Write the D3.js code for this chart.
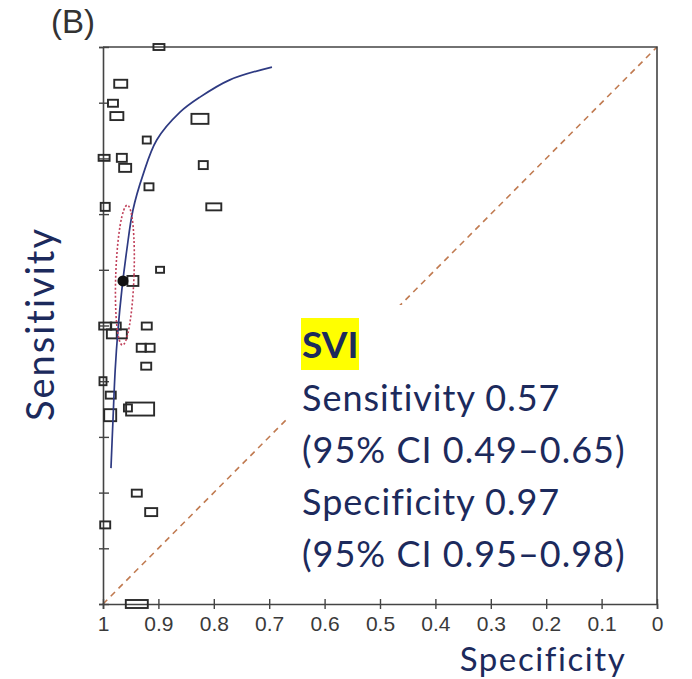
<!DOCTYPE html>
<html>
<head>
<meta charset="utf-8">
<script src="https://cdn.jsdelivr.net/npm/d3@7"></script>
<style>
  body { margin: 0; background: #fff; }
</style>
</head>
<body>
<div id="chart"></div>
<script>
var width = 692;
var height = 679;

// Tick values on the specificity axis (also used for sensitivity ticks)
var tickValues = [1, 0.9, 0.8, 0.7, 0.6, 0.5, 0.4, 0.3, 0.2, 0.1, 0];

// Individual studies: specificity, sensitivity and box weights
var studySpec = [0.899, 0.968, 0.982, 0.975, 0.825, 0.921, 0.998, 0.966, 0.960, 0.819,
                 0.917, 0.996, 0.800, 0.897, 0.946, 0.996, 0.977, 0.921, 0.984, 0.966,
                 0.931, 0.915, 0.922, 1.000, 0.986, 0.933, 0.987, 0.955, 0.939, 0.913,
                 0.996, 0.939];
var studySens = [1.000, 0.934, 0.899, 0.876, 0.871, 0.833, 0.801, 0.801, 0.783, 0.788,
                 0.749, 0.713, 0.713, 0.600, 0.580, 0.499, 0.499, 0.499, 0.485, 0.485,
                 0.460, 0.460, 0.427, 0.400, 0.375, 0.350, 0.339, 0.352, 0.199, 0.165,
                 0.142, 0.000];
var studyNeg = [44, 52, 40, 52, 68, 32, 44, 40, 48, 36,
                36, 36, 60, 32, 44, 48, 40, 40, 40, 40,
                36, 36, 40, 28, 40, 112, 48, 32, 40, 48,
                40, 88];
var studyPos = [24, 32, 28, 32, 40, 28, 24, 32, 32, 32,
                28, 32, 28, 24, 40, 28, 28, 28, 36, 36,
                32, 32, 28, 32, 28, 52, 48, 28, 28, 32,
                28, 32];

// SROC curve
var curveSpec = [0.9856, 0.982, 0.978, 0.973, 0.966, 0.957, 0.946, 0.928, 0.903, 0.861, 0.825, 0.771, 0.695];
var curveSens = [0.244, 0.330, 0.420, 0.492, 0.564, 0.636, 0.707, 0.770, 0.833, 0.883, 0.910, 0.941, 0.964];

// Summary point and its 95% confidence region
var summarySpec = 0.964;
var summarySens = 0.580;
var regionSpec = [0.977, 0.944];
var regionSens = [0.465, 0.716];

var summaryLines = ["Sensitivity 0.57", "(95% CI 0.49\u20130.65)", "Specificity 0.97", "(95% CI 0.95\u20130.98)"];

var navy = "#1c2a5c";

var svg = d3.select("#chart").append("svg")
    .attr("width", width)
    .attr("height", height);

var x = d3.scaleLinear().domain([1, 0]).range([103, 657]);
var y = d3.scaleLinear().domain([0, 1]).range([604, 47]);
var boxSize = d3.scaleLinear().domain([0, 100]).range([0, 25]);

// Chance diagonal
svg.append("line")
  .attr("x1", x(1)).attr("y1", y(0))
  .attr("x2", x(0)).attr("y2", y(1))
  .attr("stroke", "#c07a50")
  .attr("stroke-width", 1.6)
  .attr("stroke-dasharray", "6,5");

// White panel behind the summary text
svg.append("rect")
  .attr("x", 288).attr("y", 305)
  .attr("width", 362).attr("height", 290)
  .attr("fill", "#fff");

// Frame: top and right borders
svg.append("path")
  .attr("d", "M" + x(1) + "," + y(1) + "H" + x(0) + "V" + y(0))
  .attr("fill", "none")
  .attr("stroke", "#444")
  .attr("stroke-width", 1.6);

// Bottom axis
var xAxis = svg.append("g")
  .attr("transform", "translate(0," + y(0) + ")")
  .call(d3.axisBottom(x).tickValues(tickValues).tickSize(5).tickFormat(d3.format("")));
xAxis.select(".domain").attr("stroke", "#444").attr("stroke-width", 1.6);
xAxis.selectAll(".tick line").attr("y1", -5).attr("y2", 5).attr("stroke", "#444").attr("stroke-width", 1.4);
xAxis.selectAll(".tick text")
  .attr("y", 12)
  .attr("dy", "0.71em")
  .attr("fill", "#3a3a3a")
  .style("font-family", "'Liberation Sans', Arial, sans-serif")
  .style("font-size", "21px");

// Left axis, ticks only
var yAxis = svg.append("g")
  .attr("transform", "translate(" + x(1) + ",0)")
  .call(d3.axisLeft(y).tickValues(tickValues).tickSize(4).tickFormat(""));
yAxis.select(".domain").attr("stroke", "#444").attr("stroke-width", 1.6);
yAxis.selectAll(".tick line").attr("x1", -4).attr("x2", 6).attr("stroke", "#444").attr("stroke-width", 1.4);

// Study boxes
var studies = studySpec.map((s, i) => ({spec: s, sens: studySens[i], w: studyNeg[i], h: studyPos[i]}));
svg.selectAll("rect.study")
  .data(studies)
  .enter()
  .append("rect")
    .attr("class", "study")
    .attr("x", d => x(d.spec) - boxSize(d.w) / 2)
    .attr("y", d => y(d.sens) - boxSize(d.h) / 2)
    .attr("width", d => boxSize(d.w))
    .attr("height", d => boxSize(d.h))
    .attr("fill", "none")
    .attr("stroke", "#2a2a2a")
    .attr("stroke-width", 1.9);

// SROC curve
var line = d3.line()
  .x(d => x(d[0]))
  .y(d => y(d[1]))
  .curve(d3.curveCatmullRom);
svg.append("path")
  .datum(curveSpec.map((s, i) => [s, curveSens[i]]))
  .attr("d", line)
  .attr("fill", "none")
  .attr("stroke", "#2e3a82")
  .attr("stroke-width", 1.7);

// Confidence region
var cx = (x(regionSpec[0]) + x(regionSpec[1])) / 2;
var cy = (y(regionSens[0]) + y(regionSens[1])) / 2;
svg.append("ellipse")
  .attr("cx", cx)
  .attr("cy", cy)
  .attr("rx", Math.abs(x(regionSpec[1]) - x(regionSpec[0])) / 2)
  .attr("ry", Math.abs(y(regionSens[1]) - y(regionSens[0])) / 2)
  .attr("transform", "rotate(2," + cx + "," + cy + ")")
  .attr("fill", "none")
  .attr("stroke", "#c0405a")
  .attr("stroke-width", 1.6)
  .attr("stroke-dasharray", "2,2");

// Summary point
svg.append("circle")
  .attr("cx", x(summarySpec))
  .attr("cy", y(summarySens))
  .attr("r", 5.5)
  .attr("fill", "#111");

// Panel label
svg.append("text")
  .attr("x", 51).attr("y", 33)
  .attr("fill", "#333")
  .style("font-family", "'Liberation Sans', Arial, sans-serif")
  .style("font-size", "33px")
  .text("(B)");

// Axis titles
svg.append("text")
  .attr("transform", "translate(54,324) rotate(-90)")
  .attr("text-anchor", "middle")
  .attr("fill", navy)
  .style("font-family", "Lato, sans-serif")
  .style("font-size", "38px")
  .style("letter-spacing", "2px")
  .text("Sensitivity");

svg.append("text")
  .attr("x", 543).attr("y", 671)
  .attr("text-anchor", "middle")
  .attr("fill", navy)
  .style("font-family", "Lato, sans-serif")
  .style("font-size", "33px")
  .style("letter-spacing", "1.6px")
  .text("Specificity");

// Summary text
svg.append("rect")
  .attr("x", 301).attr("y", 318)
  .attr("width", 58).attr("height", 52)
  .attr("fill", "#ffff00");

svg.append("text")
  .attr("x", 302).attr("y", 358)
  .attr("fill", navy)
  .style("font-family", "Lato, sans-serif")
  .style("font-weight", "bold")
  .style("font-size", "37px")
  .text("SVI");

svg.selectAll("text.summary")
  .data(summaryLines)
  .enter()
  .append("text")
    .attr("class", "summary")
    .attr("x", 302)
    .attr("y", (d, i) => 411 + i * 52)
    .attr("fill", navy)
    .style("font-family", "Lato, sans-serif")
    .style("font-size", "36px")
    .style("letter-spacing", "1px")
    .text(d => d);
</script>
</body>
</html>
